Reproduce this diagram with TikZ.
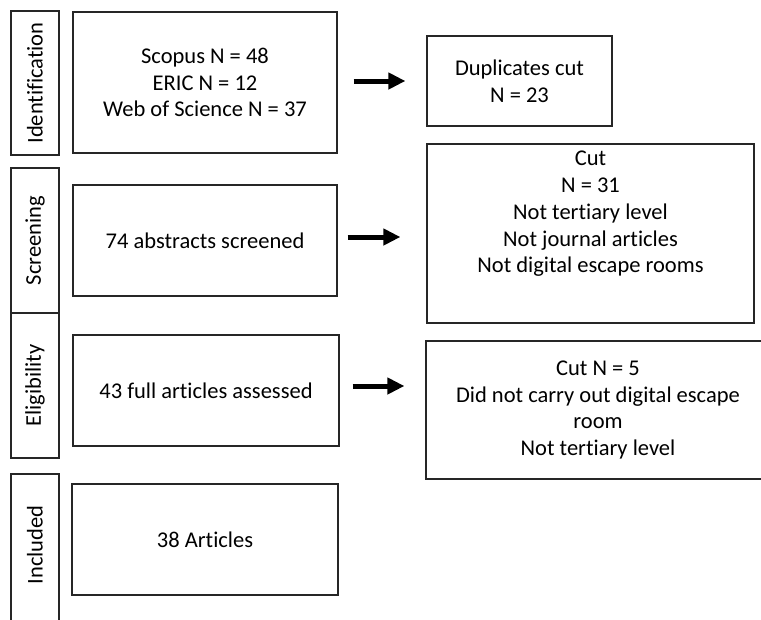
\documentclass[tikz,border=0pt]{standalone}
\usepackage{fontspec}
\setmainfont{Carlito}[Ligatures={NoCommon,NoRare,NoContextual}]
\usetikzlibrary{arrows.meta}
\begin{document}
\begin{tikzpicture}[x=1pt,y=-1pt,
  every node/.style={font=\fontsize{22.5}{26.7}\selectfont, text=black},
  box/.style={draw=black!85, line width=1.2pt, inner sep=0pt, align=center},
  lab/.style={box, minimum width=48pt},
  txt/.style={inner sep=0pt, align=center},
  bigarrow/.style={line width=5pt, -{Triangle[length=17pt,width=16pt]}}]
\clip (0,0) rectangle (761,619);
\fill[white] (0,0) rectangle (761,619);
% stage labels
\node[lab, minimum height=144pt] (l1) at (35,83) {};
\node[rotate=90] (l1t) at (l1.center) {Identification};
\node[lab, minimum height=145pt] (l2) at (35,240.5) {};
\node[rotate=90] (l2t) at (l2.center) {Screening};
\node[lab, minimum height=145pt] (l3) at (35,385.5) {};
\node[rotate=90] (l3t) at (l3.center) {Eligibility};
\node[lab, minimum height=170pt] (l4) at (35,559) {};
\node[rotate=90] (l4t) at (35,545) {Included};
% main boxes
\node[box, minimum width=264pt, minimum height=141pt] (b1) at (205,82.5)
  {Scopus N = 48\\ERIC N = 12\\Web of Science N = 37};
\node[box, minimum width=264pt, minimum height=111pt] (b2) at (205,240.5)
  {74 abstracts screened};
\node[box, minimum width=266pt, minimum height=111pt] (b3) at (206,390.5)
  {43 full articles assessed};
\node[box, minimum width=266pt, minimum height=111pt] (b4) at (205,539.5)
  {38 Articles};
% right boxes
\node[box, minimum width=185pt, minimum height=90pt] (d1) at (519.5,81)
  {Duplicates cut\\N = 23};
\node[box, minimum width=327pt, minimum height=179pt] (c1) at (590.5,233.5) {};
\node[txt] (c1t) at (590.5,214)
  {Cut\\N = 31\\Not tertiary level\\Not journal articles\\Not digital escape rooms};
\node[box, minimum width=344pt, minimum height=138pt] (c2) at (598,410)
  {Cut N = 5\\Did not carry out digital escape\\room\\Not tertiary level};
% arrows
\draw[bigarrow, shorten <=16pt, shorten >=21pt] (b1.east |- d1.west) -- (d1.west);
\draw[bigarrow, shorten <=10pt, shorten >=26pt] (b2.east |- 0,237) -- (c1.west |- 0,237);
\draw[bigarrow, shorten <=13pt, shorten >=21pt] (b3.east |- 0,386) -- (c2.west |- 0,386);
\end{tikzpicture}
\end{document}
